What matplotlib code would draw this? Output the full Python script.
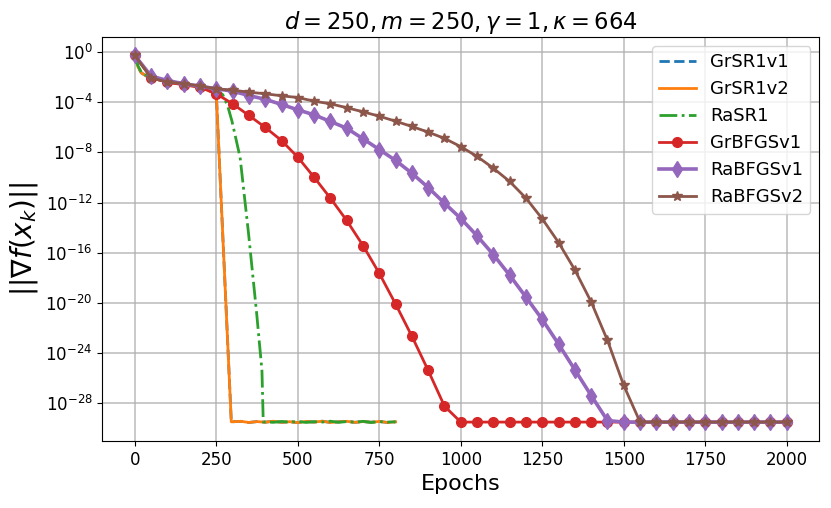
#!/usr/bin/env python3
"""
Gradient norm vs epochs for the SR1 / BFGS variants (d=250, m=250).

Writes:
    out.png
"""

import numpy as np
import matplotlib
matplotlib.use("Agg")
import matplotlib.pyplot as plt
from matplotlib.ticker import FixedLocator, NullLocator


# BFGS runs are logged every 50 epochs, values are log10 ||grad f||
BFGS_EPOCHS = list(range(0, 2001, 50))

GR_BFGS_V1_LOG = [
    -0.26, -2.04, -2.39, -2.60, -2.79, -3.32, -4.12, -5.05, -6.00, -7.05,
    -8.38, -9.98, -11.65, -13.43, -15.43, -17.65, -20.10, -22.67, -25.40, -28.25,
    -29.52, -29.52, -29.52, -29.52, -29.52, -29.52, -29.52, -29.52, -29.52, -29.52,
    -29.52, -29.52, -29.52, -29.52, -29.52, -29.52, -29.52, -29.52, -29.52, -29.52,
    -29.52,
]

RA_BFGS_V1_LOG = [
    -0.26, -1.91, -2.26, -2.52, -2.71, -2.92, -3.11, -3.46, -3.76, -4.17,
    -4.60, -5.00, -5.53, -6.07, -6.91, -7.77, -8.64, -9.66, -10.80, -12.05,
    -13.27, -14.66, -16.16, -17.80, -19.55, -21.33, -23.30, -25.35, -27.40, -29.40,
    -29.52, -29.52, -29.52, -29.52, -29.52, -29.52, -29.52, -29.52, -29.52, -29.52,
    -29.52,
]

RA_BFGS_V2_LOG = [
    -0.26, -2.04, -2.39, -2.50, -2.70, -2.92, -3.03, -3.19, -3.32, -3.48,
    -3.62, -3.91, -4.12, -4.43, -4.76, -5.11, -5.51, -5.93, -6.38, -6.88,
    -7.54, -8.32, -9.26, -10.32, -11.65, -13.30, -15.19, -17.38, -19.93, -23.00,
    -26.60, -29.52, -29.52, -29.52, -29.52, -29.52, -29.52, -29.52, -29.52, -29.52,
    -29.52,
]

# SR1 runs stop at epoch 800 and are logged more densely
GR_SR1_EPOCHS = [
    0, 10, 20, 35, 50, 100, 150, 200, 250, 296,
    325, 350, 375, 400, 425, 450, 475, 500, 525, 550,
    575, 600, 625, 650, 675, 700, 725, 750, 775, 800,
]
GR_SR1_LOG = [
    -0.26, -1.20, -1.65, -1.90, -2.04, -2.39, -2.60, -2.79, -3.32, -29.50,
    -29.46, -29.55, -29.48, -29.53, -29.45, -29.54, -29.49, -29.56, -29.47, -29.52,
    -29.45, -29.55, -29.50, -29.46, -29.54, -29.48, -29.53, -29.47, -29.55, -29.50,
]

RA_SR1_EPOCHS = [
    0, 10, 20, 35, 50, 100, 150, 200, 250, 270,
    285, 298, 323, 349, 374, 390, 394, 425, 450, 475,
    500, 525, 550, 575, 600, 625, 650, 675, 700, 725,
    750, 775, 800,
]
RA_SR1_LOG = [
    -0.26, -1.10, -1.60, -1.85, -2.04, -2.30, -2.55, -2.75, -2.95, -3.40,
    -4.30, -5.50, -8.40, -14.50, -20.90, -25.40, -29.50, -29.54, -29.47, -29.53,
    -29.46, -29.55, -29.49, -29.52, -29.45, -29.54, -29.48, -29.53, -29.46, -29.55,
    -29.49, -29.52, -29.50,
]

TITLE = r"$d = 250, m = 250, \gamma = 1, \kappa = 664$"
Y_TICK_EXPONENTS = [0, -4, -8, -12, -16, -20, -24, -28]


def to_norm(log_values):
    return 10.0 ** np.asarray(log_values)


def main() -> None:
    fig, ax = plt.subplots(figsize=(8.31, 5.08), dpi=100)
    fig.subplots_adjust(left=0.123, right=0.986, top=0.927, bottom=0.132)

    ax.plot(GR_SR1_EPOCHS, to_norm(GR_SR1_LOG), "--", color="tab:blue", lw=2, label="GrSR1v1")
    ax.plot(GR_SR1_EPOCHS, to_norm(GR_SR1_LOG), "-", color="tab:orange", lw=2, label="GrSR1v2")
    ax.plot(RA_SR1_EPOCHS, to_norm(RA_SR1_LOG), "-.", color="tab:green", lw=2, label="RaSR1")
    ax.plot(BFGS_EPOCHS, to_norm(GR_BFGS_V1_LOG), "-o", color="tab:red", lw=2,
            ms=7, label="GrBFGSv1")
    ax.plot(BFGS_EPOCHS, to_norm(RA_BFGS_V1_LOG), "-d", color="tab:purple", lw=2.6,
            ms=8, label="RaBFGSv1")
    ax.plot(BFGS_EPOCHS, to_norm(RA_BFGS_V2_LOG), "-*", color="tab:brown", lw=2,
            ms=7, label="RaBFGSv2")

    ax.set_yscale("log")
    ax.yaxis.set_major_locator(FixedLocator([10.0 ** e for e in Y_TICK_EXPONENTS]))
    ax.yaxis.set_minor_locator(NullLocator())
    ax.set_xticks([0, 250, 500, 750, 1000, 1250, 1500, 1750, 2000])
    ax.tick_params(labelsize=12)

    ax.set_title(TITLE, fontsize=16.3)
    ax.set_xlabel("Epochs", fontsize=16)
    ax.set_ylabel(r"$||\nabla f(x_k)||$", fontsize=20)
    ax.grid(True, color="#b0b0b0", lw=1.2, alpha=0.8)
    ax.legend(loc="upper right", fontsize=13)

    fig.savefig("out.png", dpi=100)
    plt.close(fig)


if __name__ == "__main__":
    main()
